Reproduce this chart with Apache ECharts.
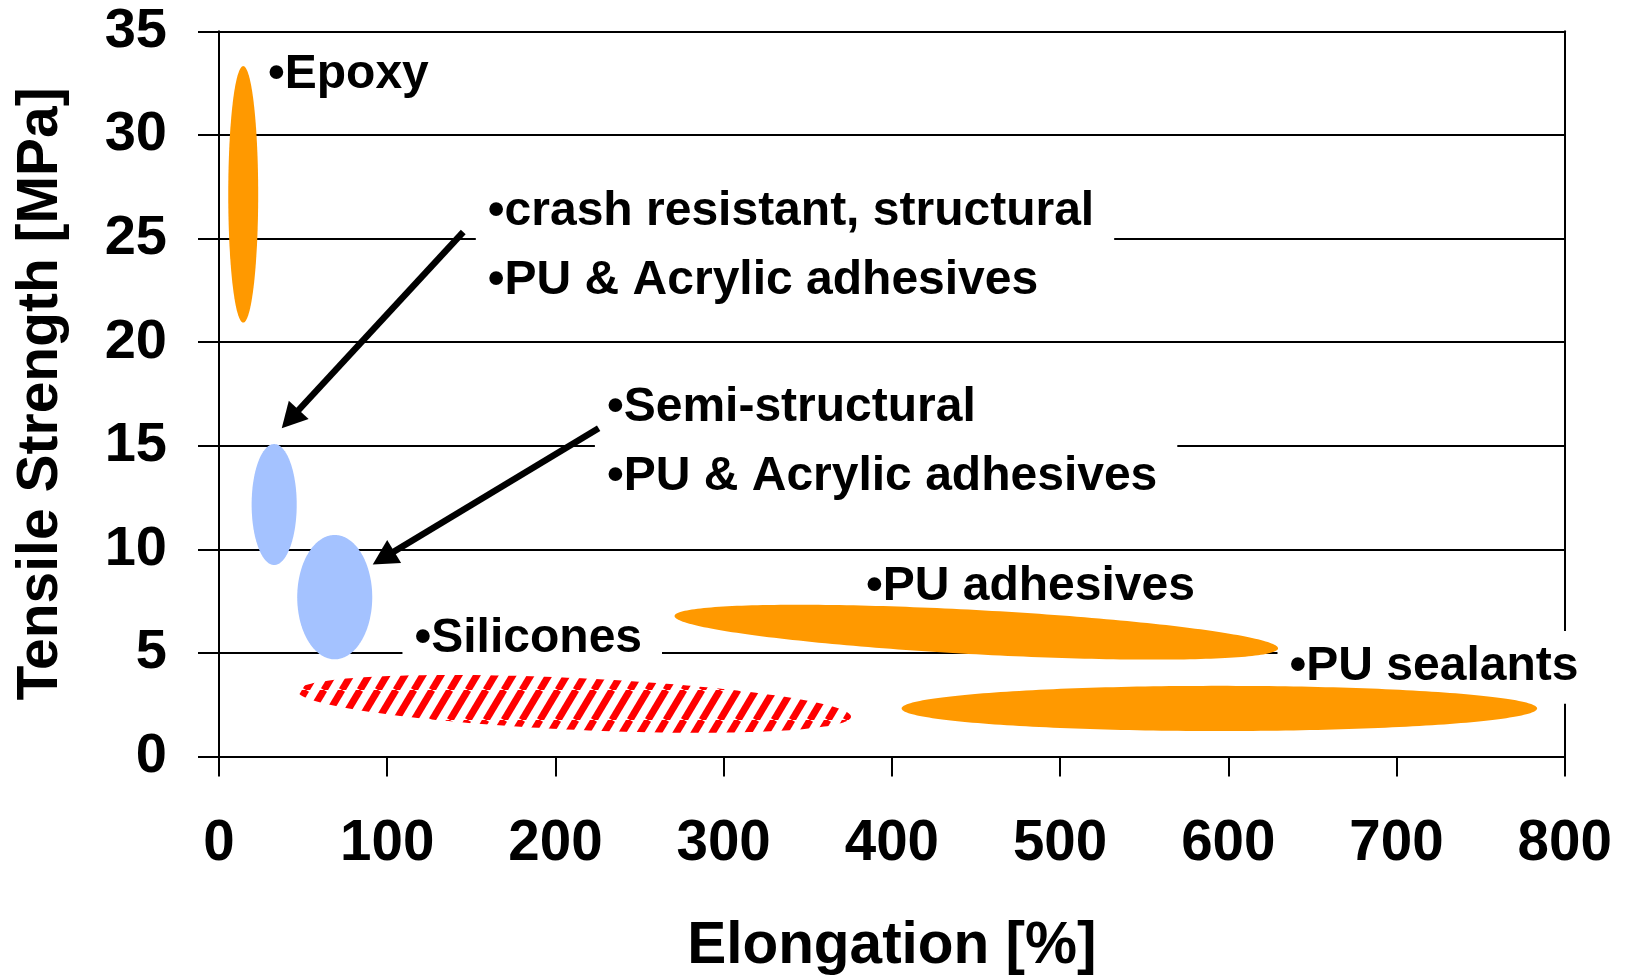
<!DOCTYPE html>
<html>
<head>
<meta charset="utf-8">
<script src="https://cdn.jsdelivr.net/npm/echarts@6/dist/echarts.min.js"></script>
<style>
  html, body { margin: 0; padding: 0; background: #ffffff; }
  #chart { width: 1629px; height: 978px; }
</style>
</head>
<body>
<div id="chart"></div>
<script>
// ---------------- data ----------------
// x axis: Elongation [%], y axis: Tensile Strength [MPa]
const xTicks = [0, 100, 200, 300, 400, 500, 600, 700, 800];
const yTicks = [0, 5, 10, 15, 20, 25, 30, 35];

// material regions (ellipses): centre, half span in x, tilt of right tip (y units), half thickness in y
const regionNames   = ['Epoxy', 'crash resistant', 'semi-structural', 'PU adhesives', 'PU sealants', 'Silicones'];
const regionCenterX = [14.4, 32.8, 68.8, 450.2, 594.7, 211.2];
const regionCenterY = [27.13, 12.16, 7.69, 6.0, 2.32, 2.54];
const regionHalfX   = [8.9, 13.4, 22.3, 179.4, 188.9, 164.5];
const regionTiltY   = [0, 0, 0, -0.78, 0, -0.62];
const regionHalfY   = [6.19, 2.92, 3.0, 1.07, 1.09, 1.25];

// annotation labels (anchor = left edge / first baseline, in data units)
const labelLines = [
  ['•Epoxy'],
  ['•crash resistant, structural', '•PU & Acrylic adhesives'],
  ['•Semi-structural', '•PU & Acrylic adhesives'],
  ['•PU adhesives'],
  ['•Silicones'],
  ['•PU sealants']
];
const labelX = [29.1, 159.8, 230.6, 384.6, 116.2, 636.4];
const labelY = [32.12, 25.52, 16.05, 7.39, 4.90, 3.56];

// arrows (data units)
const arrowFromX = [145.2, 225.7];
const arrowFromY = [25.31, 15.84];
const arrowToX   = [37.3, 91.4];
const arrowToY   = [15.84, 9.27];

// ---------------- styles ----------------
const FONT = '"Liberation Sans", Arial, Helvetica, sans-serif';
const ORANGE = '#FF9900';
const BLUE = '#A4C2FF';
const LABEL_FS = 48;
const LINE_GAP = 69.5;

function makeHatch() {
  const c = document.createElement('canvas');
  c.width = 18; c.height = 30;
  const g = c.getContext('2d');
  g.fillStyle = '#ffffff';
  g.fillRect(0, 0, 18, 30);
  g.strokeStyle = '#ff0000';
  g.lineWidth = 7;
  for (const dx of [-18, 0, 18]) {
    g.beginPath(); g.moveTo(dx, 30); g.lineTo(dx + 18, 0); g.stroke();
  }
  return c;
}
const hatch = makeHatch();
const regionFill = [ORANGE, BLUE, BLUE, ORANGE, ORANGE, { image: hatch, repeat: 'repeat' }];

const measureCtx = document.createElement('canvas').getContext('2d');
measureCtx.font = 'bold ' + LABEL_FS + 'px ' + FONT;
function textWidth(t) { return measureCtx.measureText(t).width; }

const ellipseData = regionNames.map((n, i) => [regionCenterX[i], regionCenterY[i], regionHalfX[i], regionTiltY[i], regionHalfY[i], i]);
const labelData = labelX.map((x, i) => [x, labelY[i], i]);
const arrowData = arrowFromX.map((x, i) => [x, arrowFromY[i], arrowToX[i], arrowToY[i]]);

const chart = echarts.init(document.getElementById('chart'), null, { renderer: 'canvas' });

const axisLineStyle = { color: '#000', width: 2 };

chart.setOption({
  animation: false,
  backgroundColor: '#ffffff',
  grid: { left: 219, right: 64.3, top: 31.3, bottom: 221.5, containLabel: false, outerBoundsMode: 'none' },
  xAxis: {
    type: 'value', min: xTicks[0], max: xTicks[xTicks.length - 1], interval: xTicks[1] - xTicks[0],
    name: 'Elongation [%]', nameLocation: 'middle', nameGap: 190,
    nameTextStyle: { fontFamily: FONT, fontWeight: 'bold', fontSize: 58.5, color: '#000', verticalAlign: 'middle' },
    axisLine: { show: true, onZero: false, lineStyle: axisLineStyle },
    axisTick: { show: true, inside: false, length: 20, lineStyle: axisLineStyle },
    axisLabel: { fontFamily: FONT, fontWeight: 'bold', fontSize: 56.5, color: '#000', margin: 88, verticalAlign: 'middle' },
    splitLine: { show: false }
  },
  yAxis: [{
    type: 'value', min: yTicks[0], max: yTicks[yTicks.length - 1], interval: yTicks[1] - yTicks[0],
    name: 'Tensile Strength [MPa]', nameLocation: 'middle', nameGap: 177.5,
    nameTextStyle: { fontFamily: FONT, fontWeight: 'bold', fontSize: 57, color: '#000', verticalAlign: 'middle' },
    axisLine: { show: true, onZero: false, lineStyle: axisLineStyle },
    axisTick: { show: true, inside: false, length: 21, lineStyle: axisLineStyle },
    axisLabel: { fontFamily: FONT, fontWeight: 'bold', fontSize: 56, color: '#000', margin: 52, padding: [5, 0, 0, 0] },
    splitLine: { show: true, lineStyle: { color: '#000', width: 2 } }
  }, {
    type: 'value', position: 'right', min: 0, max: 35, interval: 5,
    axisLine: { show: true, onZero: false, lineStyle: axisLineStyle },
    axisTick: { show: false }, axisLabel: { show: false }, splitLine: { show: false }
  }],
  series: [
    { // white boxes behind annotation text
      type: 'custom', name: 'label boxes', data: labelData, encode: { x: 0, y: 1 }, clip: false,
      renderItem: function (params, api) {
        const i = api.value(2);
        const p = api.coord([api.value(0), api.value(1)]);
        const lines = labelLines[i];
        const w = Math.max.apply(null, lines.map(textWidth));
        const top = p[1] - 1.08 * LABEL_FS;
        const bottom = p[1] + (lines.length - 1) * LINE_GAP + 0.44 * LABEL_FS;
        return { type: 'rect', shape: { x: p[0] - 12, y: top, width: w + 32, height: bottom - top }, style: { fill: '#ffffff' } };
      }
    },
    { // material regions
      type: 'custom', name: 'regions', data: ellipseData, encode: { x: 0, y: 1 }, clip: false,
      renderItem: function (params, api) {
        const cx = api.value(0), cy = api.value(1), ax = api.value(2), ay = api.value(3), b = api.value(4), k = api.value(5);
        const pts = [];
        const N = 240;
        for (let j = 0; j < N; j++) {
          const t = j / N * 2 * Math.PI;
          pts.push(api.coord([cx + ax * Math.cos(t), cy + ay * Math.cos(t) + b * Math.sin(t)]));
        }
        return { type: 'polygon', shape: { points: pts }, style: { fill: regionFill[k] } };
      }
    },
    { // arrows
      type: 'custom', name: 'arrows', data: arrowData, encode: { x: [0, 2], y: [1, 3] }, clip: false,
      renderItem: function (params, api) {
        const p0 = api.coord([api.value(0), api.value(1)]);
        const p1 = api.coord([api.value(2), api.value(3)]);
        const dx = p1[0] - p0[0], dy = p1[1] - p0[1];
        const L = Math.sqrt(dx * dx + dy * dy);
        const ux = dx / L, uy = dy / L, nx = -uy, ny = ux;
        const hl = 25, hw = 13.5;
        const bx = p1[0] - ux * hl, by = p1[1] - uy * hl;
        return {
          type: 'group', children: [
            { type: 'line', shape: { x1: p0[0], y1: p0[1], x2: bx + ux * 2, y2: by + uy * 2 }, style: { stroke: '#000', lineWidth: 6.5 } },
            { type: 'polygon', shape: { points: [[p1[0], p1[1]], [bx + nx * hw, by + ny * hw], [bx - nx * hw, by - ny * hw]] }, style: { fill: '#000' } }
          ]
        };
      }
    },
    { // annotation texts
      type: 'custom', name: 'labels', data: labelData, encode: { x: 0, y: 1 }, clip: false,
      renderItem: function (params, api) {
        const i = api.value(2);
        const p = api.coord([api.value(0), api.value(1)]);
        return {
          type: 'group',
          children: labelLines[i].map((t, j) => ({
            type: 'text',
            style: {
              text: t, x: p[0], y: p[1] + j * LINE_GAP - 0.34 * LABEL_FS,
              font: 'bold ' + LABEL_FS + 'px ' + FONT, fill: '#000',
              align: 'left', verticalAlign: 'middle'
            }
          }))
        };
      }
    }
  ]
});
</script>
</body>
</html>
